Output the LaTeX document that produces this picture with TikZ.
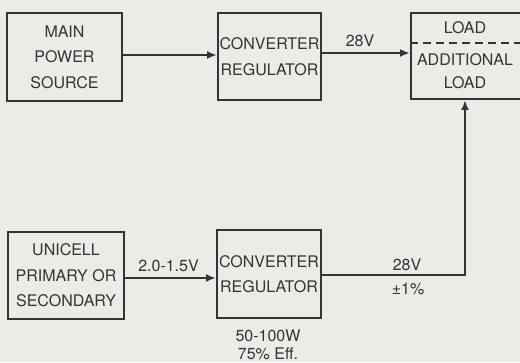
\documentclass[tikz,border=0pt]{standalone}
\usepackage{fontspec}
\setmainfont{TeX Gyre Heros}
\usepackage{xcolor}
\usepackage{tikz}
\usetikzlibrary{arrows.meta, positioning, calc}
\definecolor{ink}{RGB}{52,52,50}
\definecolor{paper}{RGB}{236,235,231}

\begin{document}
\begin{tikzpicture}[
    x=1pt, y=1pt,
    block/.style={draw=ink, line width=2pt, rectangle, inner sep=0pt, align=center, text=ink, font=\fontsize{16}{25.5}\selectfont},
    lbl/.style={text=ink, inner sep=0pt, align=center, font=\fontsize{16}{19}\selectfont},
    line/.style={draw=ink, line width=2pt, -{Latex[length=10pt, width=8pt]}},
    split/.style={draw=ink, line width=1.6pt, dash pattern=on 8pt off 5pt}
]
    \fill[paper] (0,0) rectangle (520,362);
    \useasboundingbox (0,0) rectangle (520,362);

    \node[block, minimum width=115pt, minimum height=88pt] (main) at (64.5,305) {MAIN\\POWER\\SOURCE};
    \node[block, minimum width=103pt, minimum height=87pt] (conv1) at (269.5,305.5) {CONVERTER\\REGULATOR};
    \node[block, minimum width=112pt, minimum height=86pt] (load) at (467,306) {};
    \node[block, minimum width=116pt, minimum height=87pt] (cell) at (66,86.5) {UNICELL\\PRIMARY OR\\SECONDARY};
    \node[block, minimum width=104pt, minimum height=88pt] (conv2) at (269,88) {CONVERTER\\REGULATOR};

    % load box split in two
    \node[lbl] (loadA) at (465,334) {LOAD};
    \node[lbl, font=\fontsize{16}{23}\selectfont] (loadB) at (465,290.5) {ADDITIONAL\\LOAD};
    \coordinate (cut) at (0,319);
    \draw[split] (load.west |- cut) -- (load.east |- cut);

    \draw[line] (main.east |- 0,307) -- (conv1.west |- 0,307);
    \draw[line] (conv1.east |- 0,309) -- (load.west |- 0,309) node[midway, above=5pt, xshift=-6pt, lbl] {28V};

    \draw[line] (cell.east |- 0,84) -- (conv2.west |- 0,84) node[midway, above=5pt, xshift=-2pt, lbl] {2.0-1.5V};
    \draw[line] (conv2.east |- 0,87) -| ([xshift=-2pt]load.south);
    \node[lbl] (out28) at (407,97) {28V};
    \node[lbl] (tol) at (408,73) {±1\%};

    \node[lbl, below=11pt of conv2, xshift=-1pt, font=\fontsize{16}{18}\selectfont] (rating) {50-100W\\75\% Eff.};
\end{tikzpicture}
\end{document}
